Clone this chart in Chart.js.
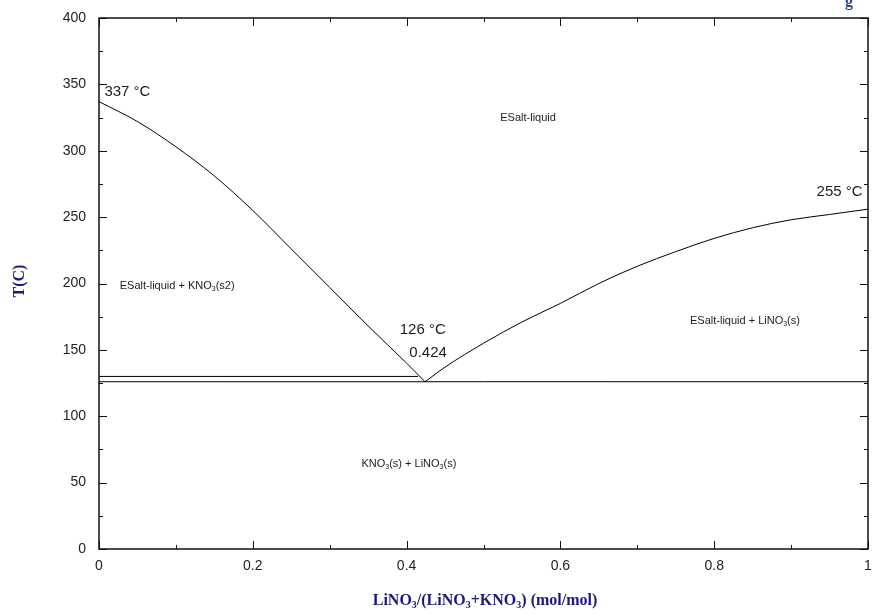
<!DOCTYPE html>
<html><head><meta charset="utf-8">
<script src="https://cdn.jsdelivr.net/npm/chart.js@4.4.1/dist/chart.umd.min.js"></script>
<style>html,body{margin:0;padding:0;background:#fff;}canvas{display:block;}</style>
</head><body>
<canvas id="c" width="875" height="616"></canvas>
<script>
// Data (x = LiNO3 mole fraction, T in °C)
const leftLiquidusX = [0, 0.05, 0.10, 0.15, 0.20, 0.25, 0.30, 0.35, 0.40, 0.424];
const leftLiquidusT = [337, 322, 303, 281, 255, 226, 197, 168, 140, 126];
const rightLiquidusX = [0.424, 0.45, 0.50, 0.55, 0.60, 0.65, 0.70, 0.75, 0.80, 0.85, 0.90, 0.95, 1.0];
const rightLiquidusT = [126, 137, 155, 171, 185, 200, 213, 224, 234, 242, 248, 252, 256];
const upperSolidusX = [0, 0.415];
const upperSolidusT = [130, 130];
const eutecticX = [0, 1];
const eutecticT = [126, 126];
const xTicks = [0, 0.2, 0.4, 0.6, 0.8, 1];
const xTickLabels = ['0', '0.2', '0.4', '0.6', '0.8', '1'];
const yTicks = [0, 50, 100, 150, 200, 250, 300, 350, 400];

// Annotation texts (data coordinates)
const labels = [
  {x: 0.007, y: 344, align: 'left', size: 15, parts: [{t: '337 °C'}]},
  {x: 0.558, y: 325, align: 'center', size: 11, parts: [{t: 'ESalt-liquid'}]},
  {x: 0.993, y: 269, align: 'right', size: 15, parts: [{t: '255 °C'}]},
  {x: 0.027, y: 198, align: 'left', size: 11, parts: [{t: 'ESalt-liquid + KNO'}, {t: '3', sub: true}, {t: '(s2)'}]},
  {x: 0.421, y: 165, align: 'center', size: 15, parts: [{t: '126 °C'}]},
  {x: 0.428, y: 148, align: 'center', size: 15, parts: [{t: '0.424'}]},
  {x: 0.84, y: 172, align: 'center', size: 11, parts: [{t: 'ESalt-liquid + LiNO'}, {t: '3', sub: true}, {t: '(s)'}]},
  {x: 0.403, y: 64, align: 'center', size: 11, parts: [{t: 'KNO'}, {t: '3', sub: true}, {t: '(s) + LiNO'}, {t: '3', sub: true}, {t: '(s)'}]}
];

const zip = (xs, ys) => xs.map((x, i) => ({x: x, y: ys[i]}));
const lineDs = (xs, ys, smooth) => ({
  data: zip(xs, ys), borderColor: '#000', borderWidth: 1, pointRadius: 0,
  fill: false, showLine: true,
  cubicInterpolationMode: smooth ? 'monotone' : 'default', tension: 0
});

function drawRich(ctx, parts, x, y, size, align, color) {
  const base = size + 'px "Liberation Sans", Arial, sans-serif';
  const sub = Math.round(size * 0.6) + 'px "Liberation Sans", Arial, sans-serif';
  let w = 0;
  parts.forEach(p => { ctx.font = p.sub ? sub : base; w += ctx.measureText(p.t).width; });
  let cx = align === 'left' ? x : align === 'right' ? x - w : x - w / 2;
  ctx.fillStyle = color; ctx.textBaseline = 'middle'; ctx.textAlign = 'left';
  parts.forEach(p => {
    ctx.font = p.sub ? sub : base;
    ctx.fillText(p.t, cx, p.sub ? y + size * 0.3 : y);
    cx += ctx.measureText(p.t).width;
  });
}

const framePlugin = {
  id: 'frame',
  afterDraw(chart) {
    const ctx = chart.ctx, a = chart.chartArea;
    const xs = chart.scales.x, ys = chart.scales.y;
    ctx.save();
    ctx.strokeStyle = '#111'; ctx.lineWidth = 1.5;
    ctx.strokeRect(a.left, a.top, a.right - a.left, a.bottom - a.top);
    ctx.lineWidth = 1;
    ctx.beginPath();
    for (let i = 0; i <= 10; i++) {
      const v = i / 10, px = Math.round(xs.getPixelForValue(v)) + 0.5;
      const len = (i % 2 === 0) ? 8 : 4;
      ctx.moveTo(px, a.bottom); ctx.lineTo(px, a.bottom - len);
      ctx.moveTo(px, a.top); ctx.lineTo(px, a.top + len);
    }
    for (let v = 0; v <= 400; v += 25) {
      const py = Math.round(ys.getPixelForValue(v)) + 0.5;
      const len = (v % 50 === 0) ? 8 : 4;
      ctx.moveTo(a.left, py); ctx.lineTo(a.left + len, py);
      ctx.moveTo(a.right, py); ctx.lineTo(a.right - len, py);
    }
    ctx.stroke();

    labels.forEach(l => drawRich(ctx, l.parts, xs.getPixelForValue(l.x), ys.getPixelForValue(l.y), l.size, l.align, '#1c1c1c'));

    // Axis titles
    const navy = '#1a1a7a';
    ctx.fillStyle = navy;
    ctx.save();
    ctx.translate(20, 281); ctx.rotate(-Math.PI / 2);
    ctx.font = 'bold 16px "Liberation Serif", "Times New Roman", serif';
    ctx.textAlign = 'center'; ctx.textBaseline = 'middle';
    ctx.fillText('T(C)', 0, 0);
    ctx.restore();

    const big = 'bold 16px "Liberation Serif", "Times New Roman", serif';
    const small = 'bold 10px "Liberation Serif", "Times New Roman", serif';
    const tparts = [{t: 'LiNO'}, {t: '3', sub: 1}, {t: '/(LiNO'}, {t: '3', sub: 1}, {t: '+KNO'}, {t: '3', sub: 1}, {t: ') (mol/mol)'}];
    let w = 0;
    tparts.forEach(p => { ctx.font = p.sub ? small : big; w += ctx.measureText(p.t).width; });
    let cx = 485 - w / 2; const by = 605;
    ctx.textAlign = 'left'; ctx.textBaseline = 'alphabetic';
    tparts.forEach(p => { ctx.font = p.sub ? small : big; ctx.fillText(p.t, cx, p.sub ? by + 3 : by); cx += ctx.measureText(p.t).width; });

    // cropped logo fragment at top-right
    ctx.font = 'bold 16px "Liberation Serif", serif';
    ctx.fillStyle = '#2a4a8a';
    ctx.fillText('g', 845, 6);
    ctx.restore();
  }
};

new Chart(document.getElementById('c'), {
  type: 'scatter',
  data: {
    datasets: [
      lineDs(leftLiquidusX, leftLiquidusT, true),
      lineDs(rightLiquidusX, rightLiquidusT, true),
      lineDs(upperSolidusX, upperSolidusT, false),
      lineDs(eutecticX, eutecticT, false)
    ]
  },
  options: {
    responsive: false, animation: false, devicePixelRatio: 1,
    layout: {padding: {top: 18, right: 7, left: 0, bottom: 0}},
    plugins: {legend: {display: false}, tooltip: {enabled: false}},
    scales: {
      x: {
        type: 'linear', min: 0, max: 1,
        afterBuildTicks: s => { s.ticks = xTicks.map(v => ({value: v})); },
        afterFit: s => { s.height = 67; s.paddingLeft = 0; s.paddingRight = 0; },
        grid: {display: false, drawTicks: false},
        border: {display: false},
        ticks: {padding: 9, color: '#222', font: {size: 14, family: '"Liberation Sans", Arial, sans-serif'}, maxRotation: 0,
          callback: (v, i) => xTickLabels[i]}
      },
      y: {
        type: 'linear', min: 0, max: 400,
        afterBuildTicks: s => { s.ticks = yTicks.map(v => ({value: v})); },
        afterFit: s => { s.width = 99; s.paddingTop = 0; s.paddingBottom = 0; },
        grid: {display: false, drawTicks: false},
        border: {display: false},
        ticks: {padding: 13, color: '#222', font: {size: 14, family: '"Liberation Sans", Arial, sans-serif'}}
      }
    }
  },
  plugins: [framePlugin]
});
</script>
</body></html>
